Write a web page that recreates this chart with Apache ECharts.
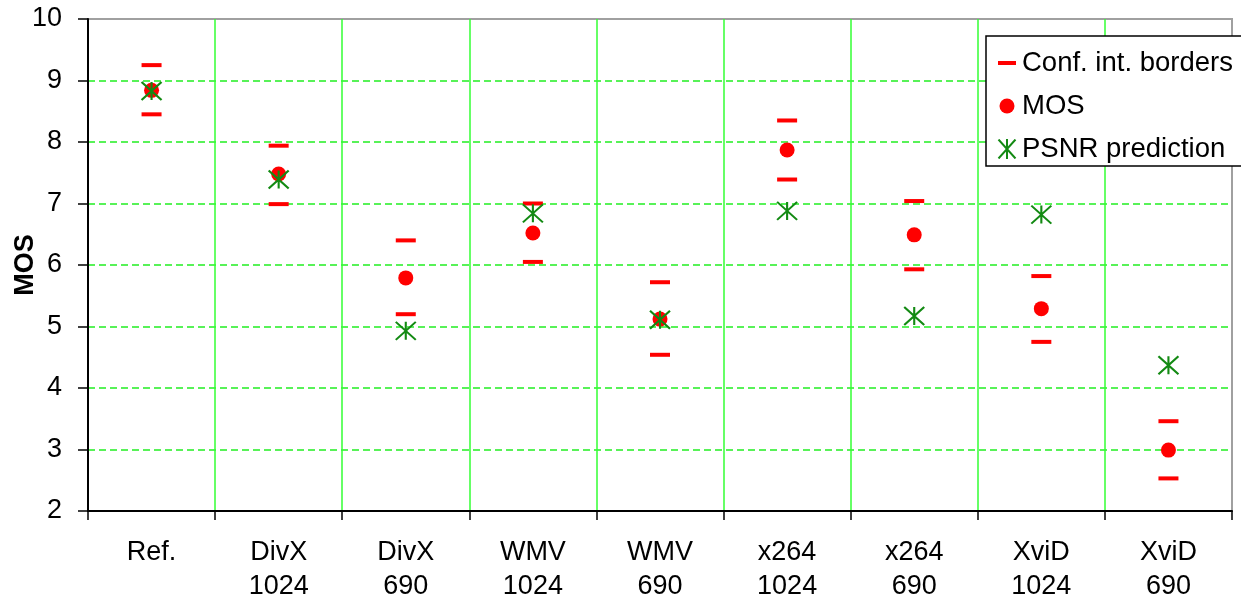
<!DOCTYPE html>
<html>
<head>
<meta charset="utf-8">
<script src="https://cdn.jsdelivr.net/npm/echarts@6/dist/echarts.min.js"></script>
<style>html,body{margin:0;padding:0;background:#fff}#c{width:1241px;height:603px}</style>
</head>
<body>
<div id="c"></div>
<script>
var categories = ['Ref.', 'DivX\n1024', 'DivX\n690', 'WMV\n1024', 'WMV\n690', 'x264\n1024', 'x264\n690', 'XviD\n1024', 'XviD\n690'];
var confUpper = [9.25, 7.94, 6.40, 7.00, 5.72, 8.35, 7.04, 5.82, 3.46];
var confLower = [8.45, 6.99, 5.20, 6.05, 4.54, 7.39, 5.93, 4.75, 2.53];
var mos = [8.84, 7.48, 5.79, 6.52, 5.12, 7.87, 6.49, 5.29, 2.99];
var psnr = [8.83, 7.39, 4.93, 6.84, 5.11, 6.88, 5.17, 6.82, 4.37];
var yTicks = [2, 3, 4, 5, 6, 7, 8, 9, 10];

var RED = '#ff0000', GREEN = '#138a13';
function svgIcon(body) {
  var s = '<svg xmlns="http://www.w3.org/2000/svg" width="20" height="20" viewBox="0 0 20 20">' + body + '</svg>';
  return 'image://data:image/svg+xml;charset=utf-8,' + encodeURIComponent(s);
}
var iconDash = svgIcon('<rect x="1" y="8" width="18" height="4" fill="' + RED + '"/>');
var iconCircle = svgIcon('<circle cx="10" cy="10" r="7.5" fill="' + RED + '"/>');
var iconStar = svgIcon('<path d="M1.5,0.5L18.5,19.5M18.5,0.5L1.5,19.5M10,0L10,20" stroke="' + GREEN + '" stroke-width="2" fill="none"/>');

var confData = [];
for (var i = 0; i < categories.length; i++) {
  confData.push([i, confUpper[i]]);
  confData.push([i, confLower[i]]);
}
var font = 'Liberation Sans, Arial, sans-serif';
var chart = echarts.init(document.getElementById('c'));
chart.setOption({
  animation: false,
  grid: { left: 88, right: 9, top: 19, bottom: 92, containLabel: false, outerBoundsMode: 'none', show: true, borderColor: '#a0a0a0', borderWidth: 2, backgroundColor: '#fff' },
  legend: {
    orient: 'vertical', left: 986, top: 36,
    backgroundColor: '#fff', borderColor: '#000', borderWidth: 1.5,
    padding: [12, 10, 2, 11], itemGap: 13, itemWidth: 20, itemHeight: 20,
    textStyle: { fontFamily: font, fontSize: 27.5, color: '#000', lineHeight: 30 },
    data: [
      { name: 'Conf. int. borders', icon: iconDash },
      { name: 'MOS', icon: iconCircle },
      { name: 'PSNR prediction', icon: iconStar }
    ]
  },
  xAxis: {
    type: 'category', data: categories, boundaryGap: true,
    axisLine: { lineStyle: { color: '#000', width: 2 } },
    axisTick: { show: true, length: 9, inside: false, lineStyle: { color: '#000', width: 1.5 } },
    axisLabel: { fontFamily: font, fontSize: 27, color: '#000', margin: 25, lineHeight: 34 },
    splitLine: { show: true, showMinLine: false, showMaxLine: false, lineStyle: { color: '#33ff33', width: 1.5, type: 'solid' } }
  },
  yAxis: {
    type: 'value', min: yTicks[0], max: yTicks[yTicks.length - 1], interval: 1,
    name: 'MOS', nameLocation: 'middle', nameGap: 49, nameRotate: 90, nameMoveOverlap: false,
    nameTextStyle: { fontFamily: font, fontSize: 27, fontWeight: 'bold', color: '#000' },
    axisLine: { show: true, lineStyle: { color: '#000', width: 2 } },
    axisTick: { show: true, length: 10, lineStyle: { color: '#000', width: 1.5 } },
    axisLabel: { fontFamily: font, fontSize: 27, color: '#000', margin: 26 },
    splitLine: { show: true, showMinLine: false, showMaxLine: false, lineStyle: { color: '#22ee22', width: 1.5, type: [7, 4] } }
  },
  series: [
    {
      name: 'Conf. int. borders', type: 'scatter', data: confData,
      symbol: 'rect', symbolSize: [20, 4],
      itemStyle: { color: RED, opacity: 1 }, z: 3
    },
    {
      name: 'MOS', type: 'scatter', data: mos.map(function (v, i) { return [i, v]; }),
      symbol: 'circle', symbolSize: 15,
      itemStyle: { color: RED, opacity: 1 }, z: 4
    },
    {
      name: 'PSNR prediction', type: 'scatter', data: psnr.map(function (v, i) { return [i, v]; }),
      symbol: 'path://M0,0L10,10M10,0L0,10M5,0L5,10', symbolSize: [20, 18],
      itemStyle: { color: 'none', borderColor: GREEN, borderWidth: 2, opacity: 1 }, z: 5
    }
  ]
});
</script>
</body>
</html>
